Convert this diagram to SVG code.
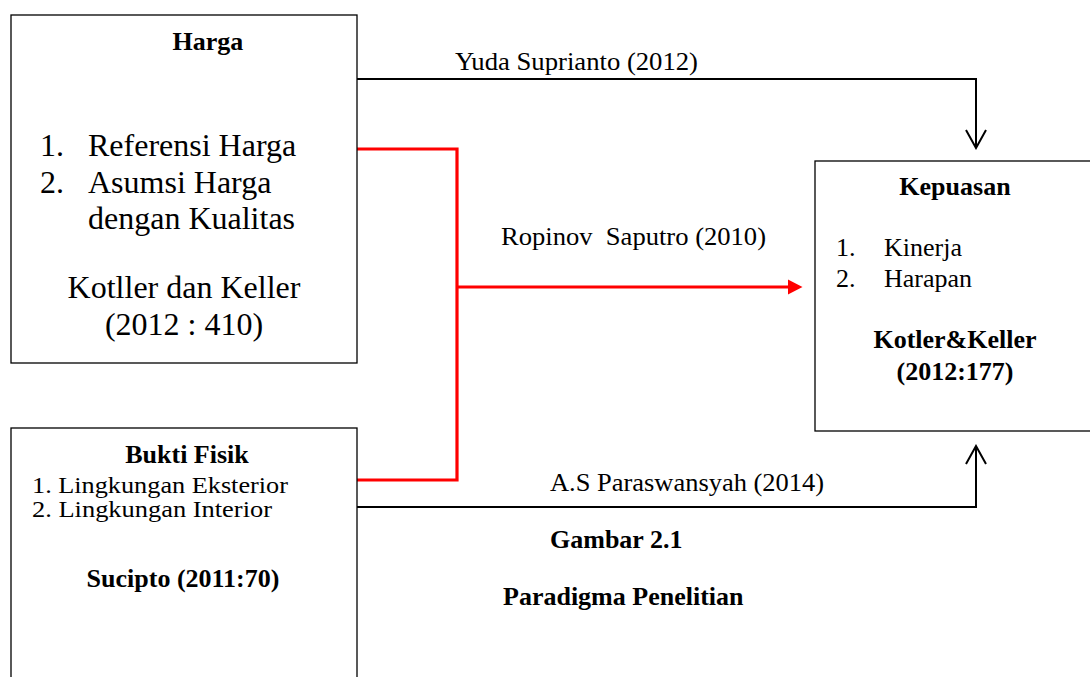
<svg xmlns="http://www.w3.org/2000/svg" width="1090" height="677" viewBox="0 0 1090 677">
<style>
.box{fill:#fff;stroke:#000;stroke-width:1.3}
.t{font-family:"Liberation Serif","Times New Roman",serif;font-size:26px;fill:#000}
.b{font-weight:bold}
.big{font-size:32px}
.sm{font-size:23.5px}
.m{text-anchor:middle}
.blk{fill:none;stroke:#000;stroke-width:2}
.red{fill:none;stroke:#ff0000;stroke-width:3.2}
</style>
<defs>
<marker id="openV" viewBox="-20 -12 22 24" refX="0" refY="0" markerWidth="22" markerHeight="24" markerUnits="userSpaceOnUse" orient="auto">
<path d="M-18,-10 L0,0 L-18,10" fill="none" stroke="#000" stroke-width="2"/>
</marker>
<marker id="redHead" viewBox="0 -8 16 16" refX="0" refY="0" markerWidth="16" markerHeight="16" markerUnits="userSpaceOnUse" orient="auto">
<path d="M0,-7.5 L14.5,0 L0,7.5 Z" fill="#ff0000"/>
</marker>
</defs>
<rect width="1090" height="677" fill="#fff"/>
<g id="connectors">
<polyline class="blk" points="357,79 976,79 976,148" marker-end="url(#openV)"/>
<polyline class="blk" points="357,507 976,507 976,446" marker-end="url(#openV)"/>
<polyline class="red" points="357,149 457,149 457,480 357,480"/>
<line class="red" x1="457" y1="287" x2="788" y2="287" marker-end="url(#redHead)"/>
<text class="t" x="455" y="70" textLength="243" lengthAdjust="spacingAndGlyphs">Yuda Suprianto (2012)</text>
<text class="t" x="501" y="245" xml:space="preserve" textLength="265" lengthAdjust="spacingAndGlyphs">Ropinov  Saputro (2010)</text>
<text class="t" x="550" y="491" textLength="274" lengthAdjust="spacingAndGlyphs">A.S Paraswansyah (2014)</text>
</g>
<g id="harga">
<rect class="box" x="11" y="15" width="346" height="348"/>
<text class="t b m" x="208" y="50">Harga</text>
<text class="t big" x="40" y="156">1.</text>
<text class="t big" x="88" y="156">Referensi Harga</text>
<text class="t big" x="40" y="193">2.</text>
<text class="t big" x="88" y="193">Asumsi Harga</text>
<text class="t big" x="88" y="229">dengan Kualitas</text>
<text class="t big m" x="184" y="298">Kotller dan Keller</text>
<text class="t big m" x="184" y="335">(2012 : 410)</text>
</g>
<g id="bukti-fisik">
<rect class="box" x="11" y="428" width="346" height="262"/>
<text class="t b m" x="187" y="463">Bukti Fisik</text>
<text class="t sm" x="32" y="493" textLength="256" lengthAdjust="spacingAndGlyphs">1. Lingkungan Eksterior</text>
<text class="t sm" x="32" y="517" textLength="240" lengthAdjust="spacingAndGlyphs">2. Lingkungan Interior</text>
<text class="t b m" x="183" y="587">Sucipto (2011:70)</text>
</g>
<g id="kepuasan">
<rect class="box" x="815" y="161" width="285" height="270"/>
<text class="t b m" x="955" y="195">Kepuasan</text>
<text class="t" x="836" y="256">1.</text>
<text class="t" x="884" y="256">Kinerja</text>
<text class="t" x="836" y="287">2.</text>
<text class="t" x="884" y="287">Harapan</text>
<text class="t b m" x="955" y="348">Kotler&amp;Keller</text>
<text class="t b m" x="955" y="380">(2012:177)</text>
</g>
<g id="caption">
<text class="t b" x="550" y="548">Gambar 2.1</text>
<text class="t b" x="503" y="605">Paradigma Penelitian</text>
</g>
</svg>
